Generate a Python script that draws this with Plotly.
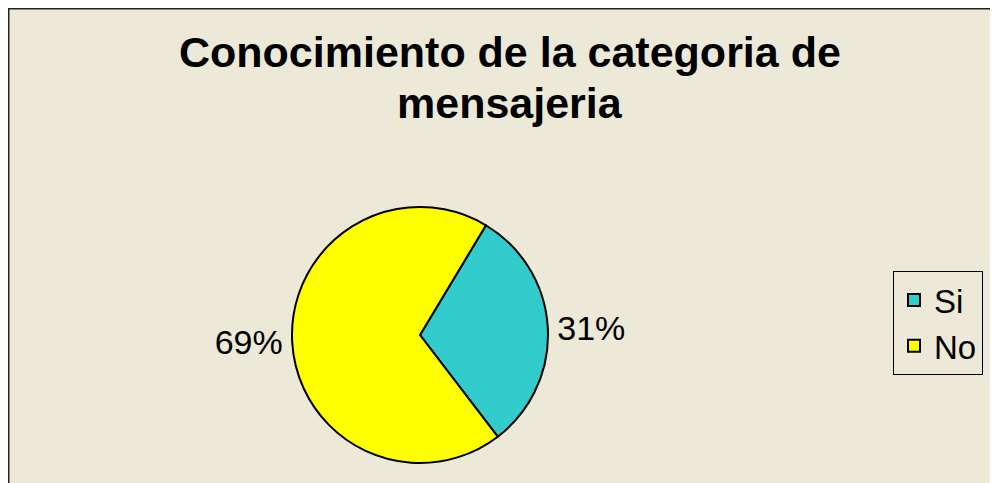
import plotly.graph_objects as go

labels = ["Si", "No"]
values = [31, 69]
colors = ["#33CCCC", "#FFFF00"]
title_lines = ["Conocimiento de la categoria de", "mensajeria"]

W, H = 998, 483
bg = "#ECE9D8"
font = "Liberation Sans, Arial, sans-serif"

# pixel positions in figure coordinates (page offset of 8px by body margin)
cx, cy, r = 412, 327, 128
fig = go.Figure(go.Pie(
    labels=labels, values=values, sort=False, direction="clockwise", rotation=31,
    marker=dict(colors=colors, line=dict(color="black", width=2)),
    texttemplate="%{percent:.0%}", textposition="outside",
    textfont=dict(family=font, size=34, color="black"),
    domain=dict(x=[(cx - r) / W, (cx + r) / W], y=[1 - (cy + r) / H, 1 - (cy - r) / H]),
    hoverinfo="label+percent",
))

shapes = [
    dict(type="line", xref="paper", yref="paper", x0=0.5 / W, x1=0.5 / W, y0=0, y1=1,
         line=dict(color="#222222", width=2)),
    dict(type="line", xref="paper", yref="paper", x0=0, x1=1, y0=1 - 0.5 / H, y1=1 - 0.5 / H,
         line=dict(color="#222222", width=2)),
]

annotations = [
    dict(text=f"<b>{title_lines[0]}</b>", xref="paper", yref="paper", x=502 / W, y=1 - 44 / H,
         xanchor="center", yanchor="middle", showarrow=False,
         font=dict(family=font, size=43, color="black")),
    dict(text=f"<b>{title_lines[1]}</b>", xref="paper", yref="paper", x=502 / W, y=1 - 95 / H,
         xanchor="center", yanchor="middle", showarrow=False,
         font=dict(family=font, size=43, color="black")),
]

fig.update_layout(
    width=W, height=H,
    paper_bgcolor=bg, plot_bgcolor=bg,
    margin=dict(l=0, r=0, t=0, b=0),
    legend=dict(x=885 / W, y=1 - 263 / H, xanchor="left", yanchor="top",
                bgcolor=bg, bordercolor="black", borderwidth=1,
                font=dict(family=font, size=33, color="black"),
                itemwidth=30, entrywidth=100, entrywidthmode="pixels"),
    shapes=shapes,
    annotations=annotations,
    showlegend=True,
)
fig.write_html("out.html")
